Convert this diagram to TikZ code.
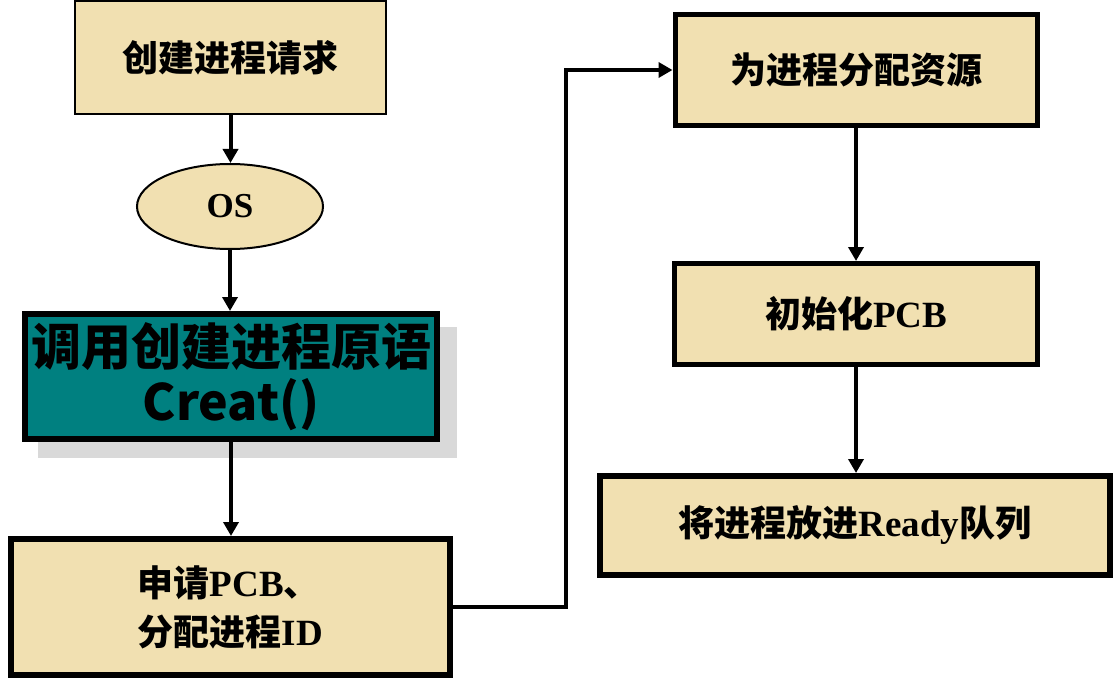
\documentclass[tikz,border=0pt]{standalone}
\usepackage{fontspec}
\setmainfont{Liberation Serif}
\newfontfamily\cjk{Noto Sans CJK SC}[BoldFont={Noto Sans CJK SC Black}]
\usetikzlibrary{shapes.geometric,arrows.meta,calc}
\definecolor{tanfill}{RGB}{241,224,177}
\definecolor{tealbox}{RGB}{0,128,128}
\definecolor{shadowgray}{RGB}{217,217,217}
\newcommand\zh[1]{{\cjk\bfseries\fontsize{36}{49}\selectfont #1}}

\begin{document}
\begin{tikzpicture}[x=1pt,y=-1pt,
  box/.style={draw=black, fill=tanfill, line width=5pt, rectangle, inner sep=0pt,
              font=\bfseries\fontsize{37}{49}\selectfont},
  thinbox/.style={box, line width=2pt},
  flow/.style={line width=4pt, -{Triangle[length=14pt,width=15pt]}}
]
% canvas
\fill[white] (0,0) rectangle (1115,679);

% left column
\node[thinbox, minimum width=311pt, minimum height=113pt] (req) at (230.5,57.5)
  {\zh{创建进程请求}};
\node[draw=black, fill=tanfill, line width=2pt, ellipse, inner sep=0pt,
      minimum width=186pt, minimum height=85pt,
      font=\bfseries\fontsize{35}{40}\selectfont] (os) at (230,206.5) {OS};

% drop shadow behind the primitive box
\fill[shadowgray] (38,327) rectangle (457,458);
\node[box, fill=tealbox, line width=6pt, minimum width=412pt, minimum height=125pt,
      align=center, font=\cjk\bfseries\fontsize{50}{55}\selectfont] (prim) at (231,376.5)
  {调用创建进程原语\\Creat()};

\node[box, line width=6pt, minimum width=439pt, minimum height=136pt, align=left] (apply) at (230.5,607)
  {\zh{申请}PCB\zh{、}\\\zh{分配进程}ID};

% right column
\node[box, minimum width=362pt, minimum height=111pt] (alloc) at (856,70)
  {\zh{为进程分配资源}};
\node[box, minimum width=363pt, minimum height=101pt] (init) at (856,314)
  {\zh{初始化}PCB};
\node[box, line width=6pt, minimum width=510pt, minimum height=99pt] (ready) at (855,525.5)
  {\zh{将进程放进}Ready\zh{队列}};

% connectors
\draw[flow] (req.south) -- (req.south |- os.north);
\draw[flow] (os.south) -- (os.south |- prim.north);
\draw[flow] (prim.south) -- (prim.south |- apply.north);
\draw[flow] (apply.east) -- ++(113,0) |- (alloc.west);
\draw[flow] (alloc.south) -- (init.north);
\draw[flow] (init.south) -- (init.south |- ready.north);
\end{tikzpicture}
\end{document}
